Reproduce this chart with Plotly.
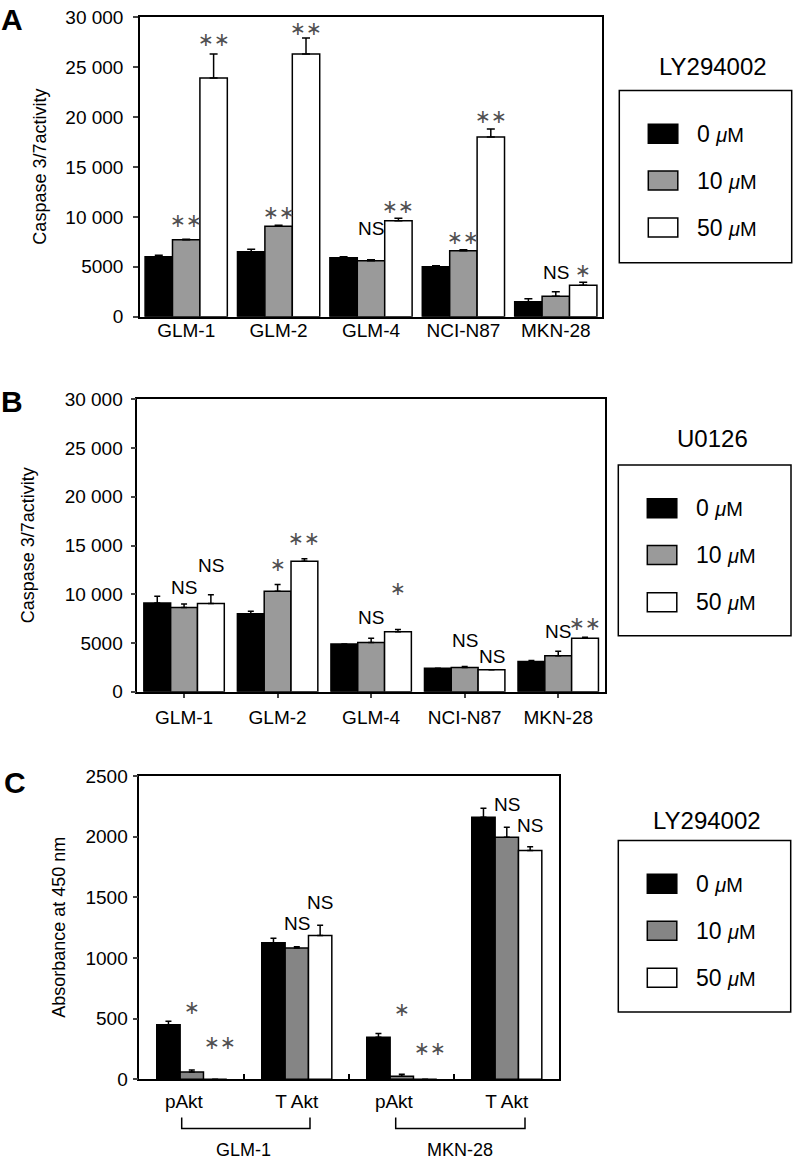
import plotly.graph_objects as go

W, H = 796, 1162
FONT = "Liberation Sans, Arial, sans-serif"
# the photographed picture is squeezed vertically: y_pic = SY * y_page + OY
SY, OY = 0.983, 10.2

# ---------------- data ----------------
cell_lines = ["GLM-1", "GLM-2", "GLM-4", "NCI-N87", "MKN-28"]
dose_names = ["0 μM", "10 μM", "50 μM"]

# Panel A : LY294002, caspase 3/7 activity
A_0 = [6000, 6500, 5900, 5000, 1500]
A_0_err = [150, 250, 100, 100, 300]
A_10 = [7700, 9050, 5600, 6600, 2050]
A_10_err = [60, 100, 100, 100, 450]
A_50 = [23900, 26300, 9600, 18000, 3150]
A_50_err = [2400, 1600, 250, 800, 300]

# Panel B : U0126, caspase 3/7 activity
B_0 = [9100, 8000, 4900, 2400, 3100]
B_0_err = [700, 250, 0, 0, 100]
B_10 = [8650, 10300, 5050, 2500, 3700]
B_10_err = [350, 700, 450, 100, 450]
B_50 = [9050, 13400, 6150, 2250, 5500]
B_50_err = [900, 250, 250, 0, 100]

# Panel C : LY294002, absorbance at 450 nm
C_labels = ["pAkt", "T Akt", "pAkt", "T Akt"]
C_groups = ["GLM-1", "MKN-28"]
C_0 = [450, 1125, 346, 2160]
C_0_err = [28, 38, 31, 74]
C_10 = [60, 1082, 25, 1995]
C_10_err = [17, 11, 16, 82]
C_50 = [0, 1186, 0, 1885]
C_50_err = [0, 83, 0, 31]

caspase_tickvals = [0, 5000, 10000, 15000, 20000, 25000, 30000]
caspase_ticktext = ["0", "5000", "10 000", "15 000", "20 000", "25 000", "30 000"]
abs_tickvals = [0, 500, 1000, 1500, 2000, 2500]

# significance marks: text, group index, bar index, label height (data units)
A_sig_text = ["∗∗", "∗∗", "∗∗", "∗∗", "NS", "∗∗", "∗∗", "∗∗", "NS", "∗"]
A_sig_group = [0, 0, 1, 1, 2, 2, 3, 3, 4, 4]
A_sig_bar = [1, 2, 1, 2, 1, 2, 1, 2, 1, 2]
A_sig_y = [9730, 27800, 10460, 28900, 8800, 11060, 8000, 20060, 4460, 4660]

B_sig_text = ["NS", "NS", "∗", "∗∗", "NS", "∗", "NS", "NS", "NS", "∗∗"]
B_sig_group = [0, 0, 1, 1, 2, 2, 3, 3, 4, 4]
B_sig_bar = [1, 2, 1, 2, 1, 2, 1, 2, 1, 2]
B_sig_y = [10670, 12950, 13150, 15780, 7600, 10670, 5310, 3620, 6230, 7020]

C_sig_text = ["∗", "∗∗", "NS", "NS", "∗", "∗∗", "NS", "NS"]
C_sig_group = [0, 0, 1, 1, 2, 2, 3, 3]
C_sig_bar = [1, 2, 1, 2, 1, 2, 1, 2]
C_sig_y = [597, 308, 1284, 1457, 583, 259, 2265, 2094]


# ---------------- helpers (target picture pixel -> paper) ----------------
def px_x(px):
    return px / W


def px_y(py):
    page_y = (py - OY) / SY
    return 1 - page_y / H


def bar_colors(gray):
    return ["#000000", gray, "#ffffff"]


fig = go.Figure()


def add_panel(xref, yref, xs, series, errs, width, gray, capw):
    cols = bar_colors(gray)
    offs = [-1.5 * width, -0.5 * width, 0.5 * width]
    for i in range(3):
        fig.add_trace(go.Bar(
            x=xs, y=series[i], name=dose_names[i],
            xaxis=xref, yaxis=yref, width=width, offset=offs[i],
            marker=dict(color=cols[i], line=dict(color="black", width=1.5)),
            error_y=dict(type="data", symmetric=False, array=errs[i],
                         arrayminus=[0] * len(xs), color="black",
                         thickness=1.5, width=capw),
            showlegend=False, hoverinfo="skip"))


WA = 0.89 / 3
WB = 0.86 / 3
WC = 0.667 / 3
add_panel("x", "y", cell_lines, [A_0, A_10, A_50], [A_0_err, A_10_err, A_50_err], WA, "#9a9a9a", 4)
add_panel("x2", "y2", cell_lines, [B_0, B_10, B_50], [B_0_err, B_10_err, B_50_err], WB, "#9a9a9a", 3)
C_x = list(range(len(C_labels)))
add_panel("x3", "y3", C_x, [C_0, C_10, C_50], [C_0_err, C_10_err, C_50_err], WC, "#858585", 3)
fig.add_trace(go.Scatter(x=[], y=[], xaxis="x4", yaxis="y3", showlegend=False))

axis_common = dict(showline=True, linecolor="black", linewidth=1.5, mirror=True,
                   showgrid=False, zeroline=False,
                   tickfont=dict(family=FONT, size=19, color="black"))

pA = dict(x0=140, x1=602, y0=17.3, y1=317.3)
pB = dict(x0=137.3, x1=605, y0=400, y1=692.7)
pC = dict(x0=139.3, x1=559.3, y0=777, y1=1080.7)

fig.update_layout(
    width=W, height=H, margin=dict(l=0, r=0, t=0, b=0),
    paper_bgcolor="white", plot_bgcolor="white", barmode="overlay",
    font=dict(family=FONT, color="black"), showlegend=False,
    xaxis=dict(axis_common, domain=[px_x(pA["x0"]), px_x(pA["x1"])], anchor="y",
               type="category", ticks="", ticklabelstandoff=-4),
    yaxis=dict(axis_common, domain=[px_y(pA["y1"]), px_y(pA["y0"])], anchor="x",
               range=[0, 30000], tickvals=caspase_tickvals, ticktext=caspase_ticktext,
               ticks="outside", ticklen=5, tickwidth=1.5, ticklabelstandoff=6),
    xaxis2=dict(axis_common, domain=[px_x(pB["x0"]), px_x(pB["x1"])], anchor="y2",
                type="category", ticks="outside", ticklen=4, tickwidth=1.5,
                ticklabelstandoff=4),
    yaxis2=dict(axis_common, domain=[px_y(pB["y1"]), px_y(pB["y0"])], anchor="x2",
                range=[0, 30000], tickvals=caspase_tickvals, ticktext=caspase_ticktext,
                ticks="outside", ticklen=5, tickwidth=1.5, ticklabelstandoff=4),
    xaxis3=dict(axis_common, domain=[px_x(pC["x0"]), px_x(pC["x1"])], anchor="y3",
                range=[-0.5, len(C_labels) - 0.5], tickvals=C_x,
                ticktext=[t + "\u00a0" * 3 if t == "pAkt" else t for t in C_labels],
                ticks="", ticklabelstandoff=4),
    xaxis4=dict(domain=[px_x(pC["x0"]), px_x(pC["x1"])], anchor="y3", overlaying="x3",
                range=[-0.5, len(C_labels) - 0.5],
                tickvals=[i + 0.5 for i in C_x[:-1]], ticks="inside", ticklen=5,
                tickwidth=1.5, tickcolor="black", showticklabels=False,
                showline=False, showgrid=False, zeroline=False),
    yaxis3=dict(axis_common, domain=[px_y(pC["y1"]), px_y(pC["y0"])], anchor="x3",
                range=[0, 2500], tickvals=abs_tickvals,
                ticks="outside", ticklen=5, tickwidth=1.5, ticklabelstandoff=1),
)

ann = []
shapes = []


def sig_marks(texts, groups, bars, ys, width, xref, yref, cats, cat_px, extra_star2=0):
    offs = [-width, 0, width]
    for t, g, b, y in zip(texts, groups, bars, ys):
        xs = offs[b] * cat_px + (extra_star2 if t == "∗∗" else 0)
        ann.append(dict(text=t, x=cats[g], y=y, xref=xref, yref=yref, showarrow=False,
                        xshift=xs, xanchor="center", yanchor="middle",
                        font=dict(family=FONT if t == "NS" else "DejaVu Sans",
                                  size=19,
                                  color="black" if t == "NS" else "#505050")))


sig_marks(A_sig_text, A_sig_group, A_sig_bar, A_sig_y, WA, "x", "y", cell_lines,
          (pA["x1"] - pA["x0"]) / len(cell_lines))
sig_marks(B_sig_text, B_sig_group, B_sig_bar, B_sig_y, WB, "x2", "y2", cell_lines,
          (pB["x1"] - pB["x0"]) / len(cell_lines))
sig_marks(C_sig_text, C_sig_group, C_sig_bar, C_sig_y, WC, "x3", "y3", C_x,
          (pC["x1"] - pC["x0"]) / len(C_labels), extra_star2=5)

# panel letters
for letter, (cx, cy) in zip(["A", "B", "C"], [(12, 20), (12, 402), (15, 784)]):
    ann.append(dict(text="<b>%s</b>" % letter, x=px_x(cx), y=px_y(cy), xref="paper",
                    yref="paper", showarrow=False, xanchor="center", yanchor="middle",
                    font=dict(family=FONT, size=30, color="black")))

# axis titles
for txt, (cx, cy) in zip(["Caspase 3/7activity", "Caspase 3/7activity", "Absorbance at 450 nm"],
                         [(40, 167), (28, 546), (59, 929)]):
    ann.append(dict(text=txt, x=px_x(cx), y=px_y(cy), xref="paper", yref="paper",
                    showarrow=False, textangle=-90, xanchor="center", yanchor="middle",
                    font=dict(family=FONT, size=18, color="black")))

# brackets under panel C
for name, (bx0, bx1), lx in zip(C_groups, [(181.7, 310), (395.7, 525)], [243, 460]):
    shapes.append(dict(type="path", xref="paper", yref="paper",
                       path="M %f %f L %f %f L %f %f L %f %f" % (
                           px_x(bx0), px_y(1119), px_x(bx0), px_y(1130),
                           px_x(bx1), px_y(1130), px_x(bx1), px_y(1119)),
                       line=dict(color="black", width=1.5)))
    ann.append(dict(text=name, x=px_x(lx), y=px_y(1151.5), xref="paper", yref="paper",
                    showarrow=False, xanchor="center", yanchor="middle",
                    font=dict(family=FONT, size=18, color="black")))

# legends (drawn boxes)
legend_titles = ["LY294002", "U0126", "LY294002"]
legend_boxes = [(619.3, 90.7, 791.7, 263.3), (618.3, 465.7, 791, 636.7), (618.3, 841.7, 790.7, 1013.3)]
title_pos = [(712.5, 66.7), (712, 439), (706.7, 821.7)]
grays = ["#9a9a9a", "#9a9a9a", "#858585"]
for title, (l, t, r, b), (tx, ty), gray in zip(legend_titles, legend_boxes, title_pos, grays):
    shapes.append(dict(type="rect", xref="paper", yref="paper",
                       x0=px_x(l), x1=px_x(r), y0=px_y(b), y1=px_y(t),
                       line=dict(color="black", width=1.5), fillcolor="white"))
    ann.append(dict(text=title, x=px_x(tx), y=px_y(ty), xref="paper", yref="paper",
                    showarrow=False, xanchor="center", yanchor="middle",
                    font=dict(family=FONT, size=24, color="black")))
    cols = bar_colors(gray)
    for i, dy in enumerate([43.3, 90.2, 137.3]):
        cy = t + dy
        shapes.append(dict(type="rect", xref="paper", yref="paper",
                           x0=px_x(l + 29), x1=px_x(l + 58.5),
                           y0=px_y(cy + 9.5), y1=px_y(cy - 9.5),
                           line=dict(color="black", width=1.5), fillcolor=cols[i]))
        num, unit = dose_names[i].split(" ")
        ann.append(dict(text="%s <span style='font-size:20px'><i>%s</i>%s</span>" % (num, unit[0], unit[1:]),
                        x=px_x(l + 76), y=px_y(cy), xref="paper", yref="paper",
                        showarrow=False, xanchor="left", yanchor="middle",
                        font=dict(family=FONT, size=23, color="black")))

fig.update_layout(annotations=ann, shapes=shapes)

fig.write_html("out.html", config={"displayModeBar": False},
               post_script="document.documentElement.style.margin='0';"
                           "document.body.style.margin='0';"
                           "document.body.style.overflow='hidden';"
                           "document.documentElement.style.overflow='hidden';")
